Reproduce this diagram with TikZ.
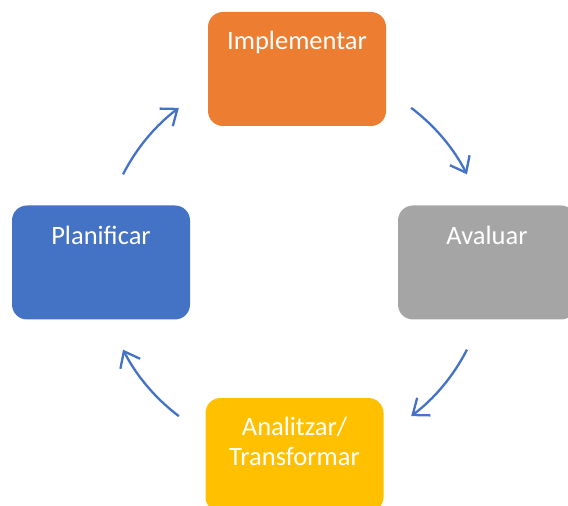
\documentclass[tikz,border=0pt]{standalone}
\usepackage{fontspec}
\setmainfont{Carlito}
\usepackage{tikz}
\usetikzlibrary{arrows.meta, positioning}

\definecolor{cblue}{HTML}{4472C4}
\definecolor{corange}{HTML}{ED7D31}
\definecolor{cgray}{HTML}{A5A5A5}
\definecolor{cyellow}{HTML}{FFC000}

\begin{document}
\begin{tikzpicture}[x=1pt, y=1pt,
    box/.style={rounded corners=15pt, minimum width=178pt, minimum height=114pt, inner sep=0pt},
    txt/.style={text=white, inner sep=0pt, align=center, font=\fontsize{26.5}{30}\selectfont},
    cycle/.style={cblue, line width=2.3pt, -{Straight Barb[length=14pt, width=22pt]}}]
      \useasboundingbox (0,0) rectangle (568,506);
      \node[box, fill=corange] (impl) at (297,437) {};
      \node[box, fill=cgray] (aval) at (487,243.5) {};
      \node[box, fill=cblue] (plan) at (101,243.5) {};
      \node[box, fill=cyellow] (anal) at (294.5,51) {};
      \node[txt, below=19pt of impl.north] (impltxt) {Implementar};
      \node[txt, below=21pt of aval.north] (avaltxt) {Avaluar};
      \node[txt, below=21pt of plan.north] (plantxt) {Planificar};
      \node[txt, below=19pt of anal.north] (analtxt) {Analitzar/\\Transformar};
      \coordinate (mid) at (295,244);
      \draw[cycle] ([shift={(53:193)}]mid) arc[start angle=53, end angle=27, radius=193];
      \draw[cycle] ([shift={(-27:193)}]mid) arc[start angle=-27, end angle=-53, radius=193];
      \draw[cycle] ([shift={(-127:193)}]mid) arc[start angle=-127, end angle=-153, radius=193];
      \draw[cycle] ([shift={(153:193)}]mid) arc[start angle=153, end angle=127, radius=193];
    \end{tikzpicture}
\end{document}
